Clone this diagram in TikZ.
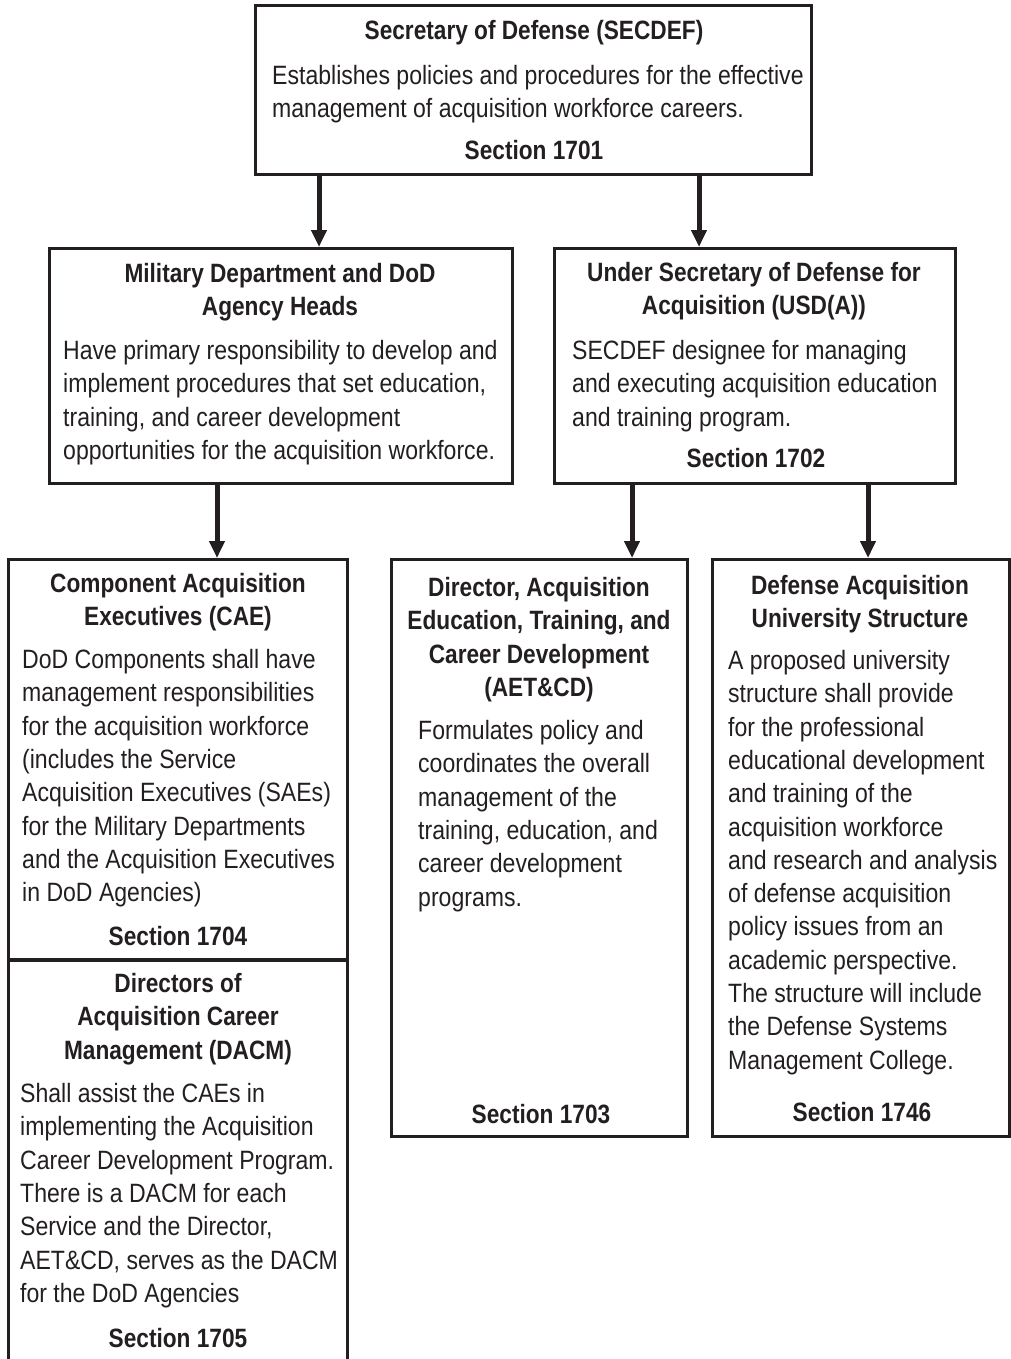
\documentclass[tikz,border=0pt]{standalone}
\usepackage{fontspec}
\setmainfont[FakeStretch=0.87,BoldFeatures={FakeStretch=0.855}]{Liberation Sans}
\usetikzlibrary{arrows.meta}
\definecolor{ink}{RGB}{35,31,32}
\newcommand{\boxfont}{\fontsize{26.5}{33.3}\selectfont}

\begin{document}
\begin{tikzpicture}[x=1pt,y=-1pt]
   \tikzstyle{unit}=[draw=ink, line width=3pt, inner sep=0pt]
   \tikzstyle{head}=[font=\boxfont\bfseries, text=ink, align=center, anchor=north, inner sep=0pt]
   \tikzstyle{body}=[font=\boxfont, text=ink, align=left, anchor=north west, inner sep=0pt]
   \tikzstyle{sect}=[font=\boxfont\bfseries, text=ink, anchor=north, inner sep=0pt]
   \tikzstyle{link}=[draw=ink, line width=5pt, -{Triangle[length=17pt,width=15pt]}]

\useasboundingbox (0,0) rectangle (1010,1359);

\node[unit, minimum width=556pt, minimum height=169pt] (sec) at (533.5,90) {};
\node[head] (sec-t) at (534,16) {\strut Secretary of Defense (SECDEF)};
\node[body] (sec-b) at (272,61) {\strut Establishes policies and procedures for the effective\\management of acquisition workforce careers.};
\node[sect] (sec-s) at (534,136) {\strut Section 1701};

\node[unit, minimum width=463pt, minimum height=235pt] (mil) at (281,366) {};
\node[head] (mil-t) at (280,259) {\strut Military Department and DoD\\Agency Heads};
\node[body] (mil-b) at (63,336) {\strut Have primary responsibility to develop and\\implement procedures that set education,\\training, and career development\\opportunities for the acquisition workforce.};

\node[unit, minimum width=401pt, minimum height=235pt] (usd) at (755,366) {};
\node[head] (usd-t) at (754,258) {\strut Under Secretary of Defense for\\Acquisition (USD(A))};
\node[body] (usd-b) at (572,336) {\strut SECDEF designee for managing\\and executing acquisition education\\and training program.};
\node[sect] (usd-s) at (756,444) {\strut Section 1702};

\node[unit, minimum width=339pt, minimum height=400pt] (cae) at (178,759.5) {};
\node[head] (cae-t) at (178,569) {\strut Component Acquisition\\Executives (CAE)};
\node[body] (cae-b) at (22,645) {\strut DoD Components shall have\\management responsibilities\\for the acquisition workforce\\(includes the Service\\Acquisition Executives (SAEs)\\for the Military Departments\\and the Acquisition Executives\\in DoD Agencies)};
\node[sect] (cae-s) at (178,922) {\strut Section 1704};

\node[unit, minimum width=339pt, minimum height=410pt] (dacm) at (178,1165) {};
\node[head] (dacm-t) at (178,969) {\strut Directors of\\Acquisition Career\\Management (DACM)};
\node[body] (dacm-b) at (20,1079) {\strut Shall assist the CAEs in\\implementing the Acquisition\\Career Development Program.\\There is a DACM for each\\Service and the Director,\\AET\&CD, serves as the DACM\\for the DoD Agencies};
\node[sect] (dacm-s) at (178,1324) {\strut Section 1705};

\node[unit, minimum width=296pt, minimum height=577pt] (aet) at (539.5,848) {};
\node[head] (aet-t) at (539,573) {\strut Director, Acquisition\\Education, Training, and\\Career Development\\(AET\&CD)};
\node[body] (aet-b) at (418,716) {\strut Formulates policy and\\coordinates the overall\\management of the\\training, education, and\\career development\\programs.};
\node[sect] (aet-s) at (541,1100) {\strut Section 1703};

\node[unit, minimum width=296.5pt, minimum height=577pt] (dau) at (860.75,848) {};
\node[head] (dau-t) at (860,571) {\strut Defense Acquisition\\University Structure};
\node[body] (dau-b) at (728,646) {\strut A proposed university\\structure shall provide\\for the professional\\educational development\\and training of the\\acquisition workforce\\and research and analysis\\of defense acquisition\\policy issues from an\\academic perspective.\\The structure will include\\the Defense Systems\\Management College.};
\node[sect] (dau-s) at (862,1098) {\strut Section 1746};

\coordinate (x1) at (319,0);
\coordinate (x2) at (699,0);
\coordinate (x3) at (217,0);
\coordinate (x4) at (632,0);
\coordinate (x5) at (868,0);

\draw[link] (sec.south -| x1) -- (mil.north -| x1);
\draw[link] (sec.south -| x2) -- (usd.north -| x2);
\draw[link] (mil.south -| x3) -- (cae.north -| x3);
\draw[link] (usd.south -| x4) -- (aet.north -| x4);
\draw[link] (usd.south -| x5) -- (dau.north -| x5);

\end{tikzpicture}
\end{document}
